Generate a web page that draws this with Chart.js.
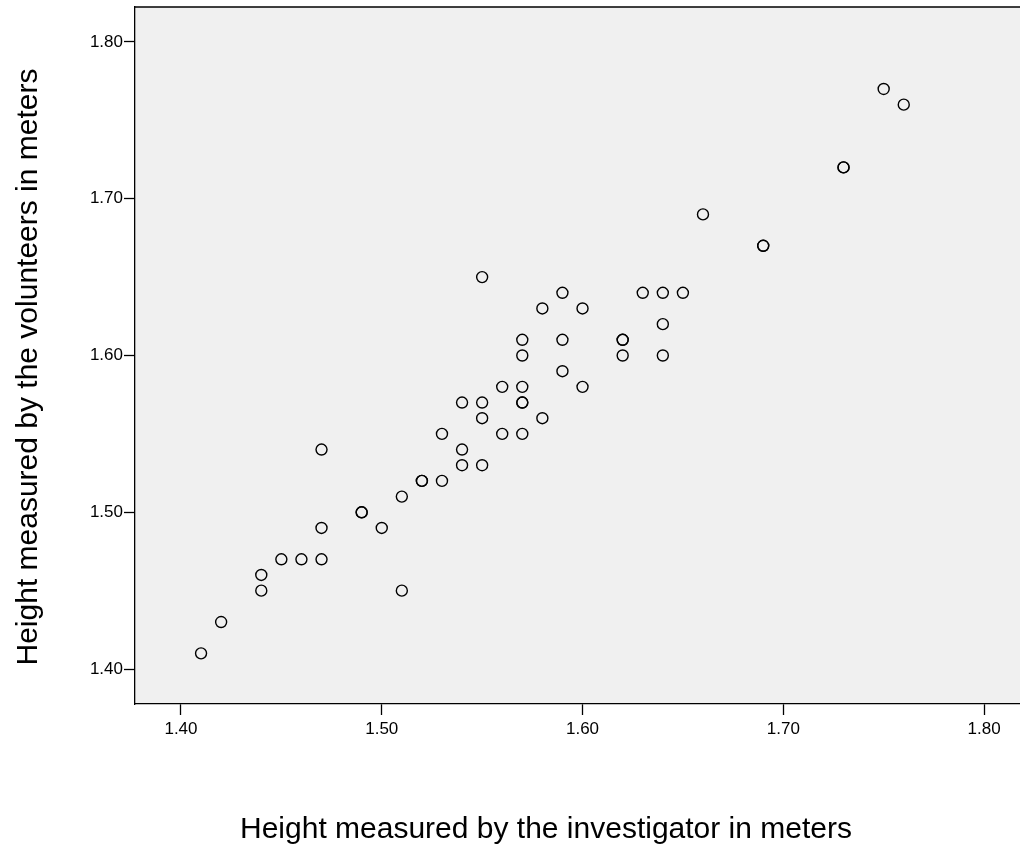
<!DOCTYPE html>
<html>
<head>
<meta charset="utf-8">
<script src="https://cdn.jsdelivr.net/npm/chart.js@4/dist/chart.umd.min.js"></script>
<style>
    body { margin: 0; background: #fff; }
    #wrap { width: 1020px; height: 848px; }
</style>
</head>
<body>
<div id="wrap"><canvas id="scatterCanvas" width="1020" height="848"></canvas></div>
<script>
/* ===== DATOS ===== */
// Altura medida por el investigador (m)
const investigatorHeights = [
    1.41, 1.42, 1.44, 1.44, 1.45, 1.46, 1.47, 1.47, 1.47,
    1.49, 1.49, 1.50, 1.51, 1.51, 1.52, 1.52, 1.53, 1.53,
    1.54, 1.54, 1.54, 1.55, 1.55, 1.55, 1.55, 1.56, 1.56,
    1.57, 1.57, 1.57, 1.57, 1.57, 1.57, 1.58, 1.58,
    1.59, 1.59, 1.59, 1.60, 1.60, 1.62, 1.62, 1.62,
    1.63, 1.64, 1.64, 1.64, 1.65, 1.66, 1.69, 1.69,
    1.73, 1.73, 1.75, 1.76
];
// Altura declarada por los voluntarios (m)
const volunteerHeights = [
    1.41, 1.43, 1.46, 1.45, 1.47, 1.47, 1.47, 1.49, 1.54,
    1.50, 1.50, 1.49, 1.51, 1.45, 1.52, 1.52, 1.52, 1.55,
    1.53, 1.54, 1.57, 1.53, 1.56, 1.57, 1.65, 1.55, 1.58,
    1.55, 1.57, 1.57, 1.58, 1.60, 1.61, 1.56, 1.63,
    1.59, 1.61, 1.64, 1.58, 1.63, 1.60, 1.61, 1.61,
    1.64, 1.64, 1.62, 1.60, 1.64, 1.69, 1.67, 1.67,
    1.72, 1.72, 1.77, 1.76
];
const xTickValues = [1.40, 1.50, 1.60, 1.70, 1.80];
const yTickValues = [1.40, 1.50, 1.60, 1.70, 1.80];
const xTitle = 'Height measured by the investigator in meters';
const yTitle = 'Height measured by the volunteers in meters';

const FONT = '"Liberation Sans", Arial, sans-serif';

// Fondo gris del área y línea superior del marco
const frameBackground = {
    id: 'frameBackground',
    beforeDraw(chart) {
        const { ctx, chartArea: a } = chart;
        ctx.save();
        ctx.fillStyle = '#f0f0f0';
        ctx.fillRect(a.left, a.top, a.right - a.left, a.bottom - a.top);
        ctx.restore();
    },
    afterDraw(chart) {
        const { ctx, chartArea: a } = chart;
        ctx.save();
        ctx.strokeStyle = '#000';
        ctx.lineWidth = 1.3;
        ctx.beginPath();
        ctx.moveTo(a.left, a.top);
        ctx.lineTo(a.right, a.top);
        ctx.stroke();

        // Títulos de ejes
        ctx.fillStyle = '#000';
        ctx.font = '30px ' + FONT;
        ctx.textAlign = 'center';
        ctx.textBaseline = 'alphabetic';
        ctx.fillText(xTitle, 546, 838);
        ctx.translate(37, 367);
        ctx.rotate(-Math.PI / 2);
        ctx.fillText(yTitle, 0, 0);
        ctx.restore();
    }
};

const points = investigatorHeights.map((x, i) => ({ x: x, y: volunteerHeights[i] }));

new Chart(document.getElementById('scatterCanvas'), {
    type: 'scatter',
    data: {
        datasets: [{
            data: points,
            backgroundColor: 'rgba(0,0,0,0)',
            borderColor: '#000',
            borderWidth: 1.4,
            pointRadius: 5.5,
            pointHoverRadius: 5.5,
            clip: false
        }]
    },
    options: {
        responsive: false,
        animation: false,
        layout: { autoPadding: false, padding: { top: 7, right: 0, left: 0, bottom: 0 } },
        plugins: {
            legend: { display: false },
            tooltip: { enabled: false }
        },
        scales: {
            x: {
                type: 'linear',
                min: 1.3771,
                max: 1.8179,
                afterBuildTicks: scale => { scale.ticks = xTickValues.map(v => ({ value: v })); },
                afterFit: scale => {
                    scale.height = 144;
                    scale.paddingLeft = 0;
                    scale.paddingRight = 0;
                },
                ticks: {
                    color: '#000',
                    padding: 4,
                    maxRotation: 0,
                    font: { family: FONT, size: 17 },
                    callback: value => Number(value).toFixed(2)
                },
                grid: {
                    drawOnChartArea: false,
                    drawTicks: true,
                    tickLength: 11,
                    tickColor: '#000',
                    tickWidth: 1.3
                },
                border: { display: true, color: '#000', width: 1.3 }
            },
            y: {
                type: 'linear',
                min: 1.3777,
                max: 1.8223,
                afterBuildTicks: scale => { scale.ticks = yTickValues.map(v => ({ value: v })); },
                afterFit: scale => {
                    scale.width = 135;
                    scale.paddingTop = 0;
                    scale.paddingBottom = 0;
                },
                ticks: {
                    color: '#000',
                    padding: 1,
                    font: { family: FONT, size: 17 },
                    callback: value => Number(value).toFixed(2)
                },
                grid: {
                    drawOnChartArea: false,
                    drawTicks: true,
                    tickLength: 11,
                    tickColor: '#000',
                    tickWidth: 1.3
                },
                border: { display: true, color: '#000', width: 1.3 }
            }
        }
    },
    plugins: [frameBackground]
});
</script>
</body>
</html>
